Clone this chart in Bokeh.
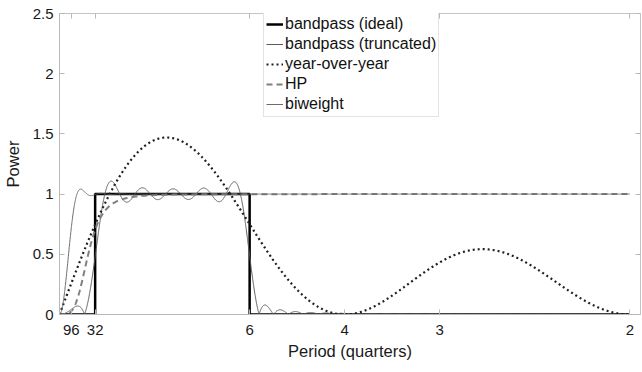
import numpy as np
from bokeh.plotting import figure
from bokeh.models import Range1d, FixedTicker, LinearAxis, Legend, LegendItem
from bokeh.embed import file_html
from bokeh.resources import INLINE

# Periods (in quarters) marked on the frequency axis
tick_periods = [96, 32, 6, 4, 3, 2]
y_ticks = [0, 0.5, 1, 1.5, 2, 2.5]
y_tick_labels = ["0", "0.5", "1", "1.5", "2", "2.5"]

# Filter settings
band_periods = [32, 6]                 # business-cycle band (quarters)
bk_truncation = 36                     # lags kept in the truncated band-pass
hp_lambda = 1600                       # Hodrick-Prescott smoothing
yoy_weights = [0.25, 0.25, 0.25, 0.25, -0.25, -0.25, -0.25, -0.25]
biweight_halfwidth = 60                # quarters

FONT = "Liberation Sans"
omega = np.linspace(0.0, np.pi, 4001)
w_lo, w_hi = 2 * np.pi / band_periods[0], 2 * np.pi / band_periods[1]

# ideal band-pass: step response
ideal_x = [0.0, w_lo, w_lo, w_hi, w_hi, np.pi]
ideal_y = [0, 0, 1, 1, 0, 0]

# truncated (Baxter-King) band-pass
K = bk_truncation
j = np.arange(1, K + 1)
b0 = (w_hi - w_lo) / np.pi
bj = (np.sin(j * w_hi) - np.sin(j * w_lo)) / (np.pi * j)
theta = (b0 + 2 * bj.sum()) / (2 * K + 1)
b0 -= theta
bj = bj - theta
bk_gain = np.abs(b0 + 2 * np.cos(np.outer(omega, j)) @ bj)

# year-over-year change of four-quarter averages
lags = np.arange(len(yoy_weights))
yoy_gain = np.abs(np.exp(-1j * np.outer(omega, lags)) @ np.array(yoy_weights))

# HP cyclical component
q = 4 * hp_lambda * (1 - np.cos(omega)) ** 2
hp_gain = q / (1 + q)

# biweight detrending
h = biweight_halfwidth
k = np.arange(-h + 1, h)
wb = (1 - (k / h) ** 2) ** 2
wb = wb / wb.sum()
trend = np.cos(np.outer(omega, k)) @ wb
bw_gain = np.abs(1 - trend)

p = figure(width=642, height=372, output_backend="svg", toolbar_location=None,
           x_range=Range1d(0, 3.2), y_range=Range1d(0, 2.5),
           min_border_left=59, min_border_right=2, min_border_top=13,
           min_border_bottom=58, background_fill_color="white",
           border_fill_color="white")
p.grid.visible = False
p.outline_line_color = "#c4c4c4"

xt = [2 * np.pi / per for per in tick_periods]
frame_grey = "#b8b8b8"

for ax in (p.xaxis[0], p.yaxis[0]):
    ax.axis_line_color = frame_grey
    ax.major_tick_line_color = frame_grey
    ax.major_tick_in = 5
    ax.major_tick_out = 0
    ax.minor_tick_line_color = None
    ax.major_label_text_font = FONT
    ax.major_label_text_font_size = "15px"
    ax.major_label_text_color = "#1a1a1a"
    ax.axis_label_text_font = FONT
    ax.axis_label_text_font_size = "16.5px"
    ax.axis_label_text_font_style = "normal"
    ax.axis_label_text_color = "#1a1a1a"

p.xaxis.ticker = FixedTicker(ticks=xt)
p.xaxis.major_label_overrides = {t: str(per) for t, per in zip(xt, tick_periods)}
p.xaxis.axis_label = "Period (quarters)"
p.xaxis.major_label_standoff = 10
p.xaxis.axis_label_standoff = 4

p.yaxis.ticker = FixedTicker(ticks=y_ticks)
p.yaxis.major_label_overrides = dict(zip(y_ticks, y_tick_labels))
p.yaxis.axis_label = "Power"
p.yaxis.major_label_standoff = 6
p.yaxis.axis_label_standoff = 8

# mirrored tick marks on the top and right edges (no labels drawn)
top = LinearAxis(ticker=FixedTicker(ticks=xt))
right = LinearAxis(ticker=FixedTicker(ticks=y_ticks))
for ax in (top, right):
    ax.axis_line_color = None
    ax.major_tick_line_color = frame_grey
    ax.major_tick_in = 5
    ax.major_tick_out = 0
    ax.minor_tick_line_color = None
    ax.major_label_text_color = None
    ax.major_label_text_font_size = "1px"
    ax.major_label_standoff = 0
p.add_layout(top, "above")
p.add_layout(right, "right")

r_ideal = p.line(ideal_x, ideal_y, line_color="black", line_width=2.5)
r_bk = p.line(omega, bk_gain, line_color="#5a5a5a", line_width=1)
r_yoy = p.line(omega, yoy_gain, line_color="#202020", line_width=2.2, line_dash="2 3")
r_hp = p.line(omega, hp_gain, line_color="#808080", line_width=2, line_dash="6 4")
r_bw = p.line(omega, bw_gain, line_color="#6a6a6a", line_width=1)

legend = Legend(items=[
    LegendItem(label="bandpass (ideal)", renderers=[r_ideal]),
    LegendItem(label="bandpass (truncated)", renderers=[r_bk]),
    LegendItem(label="year-over-year", renderers=[r_yoy]),
    LegendItem(label="HP", renderers=[r_hp]),
    LegendItem(label="biweight", renderers=[r_bw]),
], location=(204, 197))
legend.label_text_font = FONT
legend.label_text_font_size = "16px"
legend.label_text_color = "#111111"
legend.label_height = 20
legend.glyph_height = 20
legend.glyph_width = 17
legend.label_standoff = 2
legend.spacing = 0
legend.padding = 2
legend.margin = 0
legend.border_line_color = "#c8c8c8"
legend.border_line_width = 1
legend.background_fill_alpha = 1
p.add_layout(legend, "center")

open("out.html", "w").write(file_html(p, INLINE))
